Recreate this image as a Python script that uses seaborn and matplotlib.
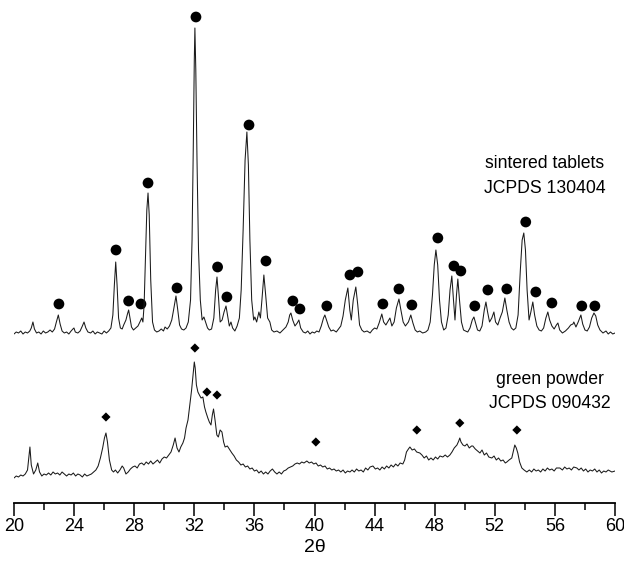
import pandas as pd
import seaborn as sns
import matplotlib.pyplot as plt
from matplotlib.ticker import MultipleLocator

# XRD patterns: (2theta, counts in a.u.)
sintered = [
    (20.00, 1), (20.15, 3), (20.30, 2), (20.45, 4), (20.60, 1), (20.75, 3), (20.90, 2), (21.05, 4),
    (21.15, 7), (21.26, 13), (21.36, 6), (21.50, 2), (21.65, 3), (21.80, 1), (21.95, 4), (22.10, 2),
    (22.25, 3), (22.40, 5), (22.55, 3), (22.70, 6), (22.82, 13), (22.95, 20), (23.07, 11), (23.20, 4),
    (23.35, 2), (23.50, 3), (23.65, 1), (23.80, 4), (23.92, 6), (23.99, 7), (24.08, 3), (24.25, 2),
    (24.40, 4), (24.55, 9), (24.66, 13), (24.78, 7), (24.92, 3), (25.10, 2), (25.25, 4), (25.40, 1),
    (25.55, 3), (25.70, 2), (25.85, 1), (26.00, 4), (26.15, 2), (26.30, 4), (26.45, 7), (26.58, 20),
    (26.68, 50), (26.77, 73), (26.86, 50), (26.96, 17), (27.08, 7), (27.20, 6), (27.30, 10), (27.45, 15),
    (27.55, 21), (27.63, 25), (27.72, 17), (27.82, 8), (27.95, 5), (28.10, 7), (28.25, 9), (28.38, 13),
    (28.50, 17), (28.58, 13), (28.66, 30), (28.76, 85), (28.84, 125), (28.92, 142), (29.00, 120), (29.10, 55),
    (29.22, 13), (29.35, 5), (29.50, 3), (29.65, 4), (29.80, 6), (29.95, 4), (30.05, 8), (30.20, 6),
    (30.35, 9), (30.50, 15), (30.62, 25), (30.78, 39), (30.90, 25), (31.02, 10), (31.15, 6), (31.30, 5),
    (31.45, 7), (31.60, 13), (31.75, 35), (31.85, 95), (31.93, 185), (32.00, 275), (32.04, 307), (32.10, 265),
    (32.18, 175), (32.28, 85), (32.40, 35), (32.52, 15), (32.64, 18), (32.75, 13), (32.88, 7), (33.00, 5),
    (33.15, 6), (33.30, 17), (33.42, 45), (33.51, 58), (33.60, 40), (33.72, 13), (33.85, 15), (33.98, 23),
    (34.11, 29), (34.22, 19), (34.33, 9), (34.44, 13), (34.55, 7), (34.70, 4), (34.85, 9), (35.00, 17),
    (35.12, 45), (35.25, 105), (35.38, 175), (35.50, 203), (35.60, 170), (35.70, 95), (35.82, 35), (35.95, 15),
    (36.03, 18), (36.15, 13), (36.30, 23), (36.40, 17), (36.50, 35), (36.63, 60), (36.75, 40), (36.88, 17),
    (37.03, 13), (37.15, 5), (37.30, 3), (37.50, 4), (37.70, 2), (37.90, 5), (38.10, 8), (38.25, 13),
    (38.35, 20), (38.43, 22), (38.55, 15), (38.70, 9), (38.85, 12), (38.96, 15), (39.08, 7), (39.25, 3),
    (39.40, 2), (39.55, 4), (39.70, 1), (39.85, 3), (40.00, 2), (40.15, 4), (40.30, 3), (40.45, 9),
    (40.60, 17), (40.69, 20), (40.80, 15), (40.95, 8), (41.10, 4), (41.25, 5), (41.45, 3), (41.60, 6),
    (41.75, 9), (41.90, 19), (42.05, 35), (42.22, 47), (42.35, 25), (42.45, 15), (42.58, 35), (42.75, 48),
    (42.88, 30), (43.00, 10), (43.15, 5), (43.30, 3), (43.50, 4), (43.70, 2), (43.85, 5), (44.00, 7),
    (44.15, 6), (44.30, 12), (44.48, 21), (44.60, 13), (44.75, 10), (45.02, 17), (45.15, 9), (45.30, 13),
    (45.45, 27), (45.62, 36), (45.75, 25), (45.90, 13), (46.05, 9), (46.25, 13), (46.41, 20), (46.55, 12),
    (46.70, 5), (46.85, 3), (47.00, 4), (47.20, 2), (47.40, 3), (47.55, 5), (47.70, 13), (47.85, 40),
    (47.97, 70), (48.08, 85), (48.20, 70), (48.32, 35), (48.45, 13), (48.60, 5), (48.75, 7), (48.90, 20),
    (49.02, 45), (49.14, 59), (49.25, 35), (49.35, 15), (49.45, 40), (49.54, 56), (49.65, 35), (49.78, 13),
    (49.92, 5), (50.05, 4), (50.20, 3), (50.35, 7), (50.50, 15), (50.61, 18), (50.72, 12), (50.85, 5),
    (51.00, 4), (51.15, 9), (51.30, 25), (51.41, 33), (51.52, 23), (51.65, 13), (51.80, 17), (51.94, 23),
    (52.05, 13), (52.20, 10), (52.35, 17), (52.50, 23), (52.67, 37), (52.80, 25), (52.95, 13), (53.10, 7),
    (53.25, 5), (53.40, 7), (53.55, 20), (53.70, 65), (53.82, 95), (53.93, 102), (54.04, 85), (54.15, 45),
    (54.28, 15), (54.40, 23), (54.53, 33), (54.65, 20), (54.80, 9), (54.95, 5), (55.10, 4), (55.25, 7),
    (55.40, 17), (55.53, 23), (55.65, 15), (55.80, 9), (55.95, 6), (56.10, 10), (56.20, 12), (56.32, 5),
    (56.50, 2), (56.70, 4), (56.90, 7), (57.05, 10), (57.20, 11), (57.26, 13), (57.40, 8), (57.55, 13),
    (57.73, 20), (57.85, 11), (58.00, 5), (58.15, 4), (58.30, 8), (58.45, 17), (58.60, 22), (58.72, 19),
    (58.85, 10), (59.00, 5), (59.20, 2), (59.40, 4), (59.55, 1), (59.70, 3), (59.85, 1), (60.00, 2),
]

green = [
    (20.00, 0), (20.15, 2), (20.30, 1), (20.45, 3), (20.60, 2), (20.75, 4), (20.90, 8), (21.00, 23),
    (21.06, 31), (21.15, 13), (21.30, 4), (21.45, 8), (21.58, 15), (21.70, 6), (21.85, 2), (22.00, 4),
    (22.15, 3), (22.30, 5), (22.45, 3), (22.60, 6), (22.75, 4), (22.90, 5), (23.05, 3), (23.20, 6),
    (23.35, 4), (23.50, 2), (23.65, 4), (23.80, 3), (23.95, 5), (24.10, 2), (24.25, 4), (24.40, 3),
    (24.55, 1), (24.70, 4), (24.85, 2), (25.00, 3), (25.15, 4), (25.30, 6), (25.45, 8), (25.60, 12),
    (25.75, 20), (25.90, 30), (26.02, 40), (26.12, 45), (26.22, 36), (26.35, 18), (26.50, 8), (26.62, 6),
    (26.75, 8), (26.90, 5), (27.05, 8), (27.20, 12), (27.30, 10), (27.45, 4), (27.60, 6), (27.75, 9),
    (27.90, 11), (28.05, 12), (28.20, 10), (28.35, 14), (28.50, 15), (28.65, 13), (28.80, 16), (28.95, 14),
    (29.10, 17), (29.25, 14), (29.40, 16), (29.55, 18), (29.70, 15), (29.85, 19), (30.00, 21), (30.15, 20),
    (30.30, 23), (30.45, 26), (30.60, 33), (30.72, 40), (30.85, 30), (30.98, 26), (31.10, 31), (31.24, 35),
    (31.35, 40), (31.45, 50), (31.58, 58), (31.70, 73), (31.82, 88), (31.92, 103), (32.00, 116), (32.06, 110),
    (32.14, 93), (32.24, 86), (32.34, 83), (32.45, 80), (32.57, 81), (32.68, 71), (32.77, 66), (32.90, 60),
    (33.00, 56), (33.11, 53), (33.20, 63), (33.28, 69), (33.38, 58), (33.50, 43), (33.60, 41), (33.72, 48),
    (33.84, 46), (33.95, 36), (34.05, 31), (34.20, 32), (34.37, 28), (34.50, 25), (34.65, 22), (34.80, 18),
    (34.95, 16), (35.10, 13), (35.25, 14), (35.40, 11), (35.55, 12), (35.70, 9), (35.85, 10), (36.00, 7),
    (36.15, 8), (36.30, 5), (36.45, 7), (36.60, 4), (36.75, 6), (36.90, 4), (37.05, 7), (37.20, 9),
    (37.35, 6), (37.50, 4), (37.65, 6), (37.80, 4), (37.95, 7), (38.10, 8), (38.25, 10), (38.40, 11),
    (38.55, 12), (38.70, 14), (38.85, 15), (39.00, 14), (39.15, 16), (39.30, 15), (39.49, 17), (39.65, 15),
    (39.80, 16), (39.95, 14), (40.10, 15), (40.25, 12), (40.40, 13), (40.55, 11), (40.70, 12), (40.85, 9),
    (41.00, 10), (41.15, 8), (41.30, 9), (41.45, 7), (41.60, 8), (41.75, 6), (41.90, 8), (42.05, 5),
    (42.20, 7), (42.36, 6), (42.50, 8), (42.65, 6), (42.80, 9), (42.95, 7), (43.10, 8), (43.25, 6),
    (43.40, 10), (43.55, 8), (43.70, 11), (43.89, 12), (44.05, 9), (44.20, 10), (44.35, 8), (44.50, 11),
    (44.65, 9), (44.80, 12), (44.95, 10), (45.10, 13), (45.25, 11), (45.40, 14), (45.55, 12), (45.70, 15),
    (45.88, 14), (46.00, 18), (46.12, 26), (46.25, 29), (46.35, 31), (46.50, 28), (46.65, 29), (46.80, 26),
    (47.01, 25), (47.15, 23), (47.30, 20), (47.45, 22), (47.60, 18), (47.75, 20), (47.90, 18), (48.05, 21),
    (48.20, 19), (48.35, 22), (48.54, 21), (48.70, 23), (48.85, 21), (49.01, 23), (49.15, 26), (49.30, 30),
    (49.48, 33), (49.60, 37), (49.67, 40), (49.75, 36), (49.88, 33), (50.01, 32), (50.15, 34), (50.30, 30),
    (50.45, 32), (50.54, 32), (50.70, 29), (50.85, 27), (51.01, 25), (51.15, 28), (51.30, 23), (51.45, 25),
    (51.60, 21), (51.80, 20), (51.95, 22), (52.10, 18), (52.25, 20), (52.40, 17), (52.55, 18), (52.70, 15),
    (52.80, 16), (52.95, 18), (53.13, 20), (53.25, 28), (53.33, 33), (53.43, 30), (53.53, 25), (53.65, 16),
    (53.80, 10), (53.95, 8), (54.13, 6), (54.30, 8), (54.45, 6), (54.60, 9), (54.75, 7), (54.90, 8),
    (55.05, 6), (55.20, 9), (55.35, 7), (55.50, 10), (55.65, 8), (55.80, 9), (55.95, 7), (56.10, 10),
    (56.33, 10), (56.50, 8), (56.65, 11), (56.80, 9), (56.95, 10), (57.10, 8), (57.25, 11), (57.46, 10),
    (57.60, 8), (57.75, 10), (57.90, 7), (58.05, 9), (58.20, 6), (58.35, 8), (58.50, 7), (58.65, 9),
    (58.80, 6), (58.95, 8), (59.10, 5), (59.25, 7), (59.40, 6), (59.55, 8), (59.79, 6), (60.00, 7),
]

# reference reflections (markers)
jcpds_130404 = [
    (22.99, 31), (26.79, 85), (27.63, 34), (28.45, 31), (28.92, 152), (30.85, 47), (32.11, 318),
    (33.55, 68), (34.17, 38), (35.64, 210), (36.77, 74), (38.56, 34), (39.03, 26), (40.82, 29),
    (42.36, 60), (42.89, 63), (44.55, 31), (45.62, 46), (46.48, 30), (48.21, 97), (49.28, 69),
    (49.74, 64), (50.67, 29), (51.54, 45), (52.80, 46), (54.06, 113), (54.73, 43), (55.80, 32),
    (57.79, 29), (58.66, 29),
]
jcpds_090432 = [
    (26.12, 61), (32.04, 130), (32.84, 86), (33.51, 83), (40.09, 36), (46.81, 48), (49.67, 55), (53.47, 48),
]

offset_sintered = 168
offset_green = 25

df_s = pd.DataFrame(sintered, columns=['2theta', 'counts'])
df_s['y'] = df_s['counts'] + offset_sintered
df_g = pd.DataFrame(green, columns=['2theta', 'counts'])
df_g['y'] = df_g['counts'] + offset_green
ref_s = pd.DataFrame(jcpds_130404, columns=['2theta', 'counts'])
ref_s['y'] = ref_s['counts'] + offset_sintered
ref_g = pd.DataFrame(jcpds_090432, columns=['2theta', 'counts'])
ref_g['y'] = ref_g['counts'] + offset_green

sns.set_style('white')
plt.rcParams['font.family'] = ['Liberation Sans', 'DejaVu Sans']
plt.rcParams['text.color'] = 'black'
plt.rcParams['axes.labelcolor'] = 'black'
plt.rcParams['xtick.color'] = 'black'

fig = plt.figure(figsize=(6.24, 5.68), dpi=100)
ax = fig.add_axes([14/624, 65/568, 601/624, 503/568])

sns.lineplot(data=df_s, x='2theta', y='y', ax=ax, estimator=None, sort=False,
             color='#1a1a1a', lw=0.75)
sns.lineplot(data=df_g, x='2theta', y='y', ax=ax, estimator=None, sort=False,
             color='#1a1a1a', lw=0.75)
sns.scatterplot(data=ref_s, x='2theta', y='y', ax=ax, marker='o', color='black',
                s=60, edgecolor='none')
sns.scatterplot(data=ref_g, x='2theta', y='y', ax=ax, marker='D', color='black',
                s=22, edgecolor='none')

ax.text(55.33, 340, 'sintered tablets', ha='center', va='center', fontsize=12.7)
ax.text(55.33, 315, 'JCPDS 130404', ha='center', va='center', fontsize=12.7)
ax.text(55.66, 124, 'green powder', ha='center', va='center', fontsize=12.7)
ax.text(55.66, 100, 'JCPDS 090432', ha='center', va='center', fontsize=12.7)

ax.set_xlim(20, 60)
ax.set_ylim(0, 503)
ax.xaxis.set_major_locator(MultipleLocator(4))
ax.xaxis.set_minor_locator(MultipleLocator(2))
ax.tick_params(axis='x', which='major', direction='out', length=9, width=1.1,
               labelsize=13, pad=2, bottom=True, colors='black')
ax.tick_params(axis='x', which='minor', direction='out', length=5, width=1.1,
               bottom=True, colors='black')
ax.set_yticks([])
ax.set_ylabel('')
ax.set_xlabel('2θ', fontsize=14, labelpad=3)
for side in ['left', 'right', 'top']:
    ax.spines[side].set_visible(False)
ax.spines['bottom'].set_linewidth(1.3)
ax.spines['bottom'].set_color('black')
ax.patch.set_alpha(0)

fig.savefig('out.png', dpi=100)
